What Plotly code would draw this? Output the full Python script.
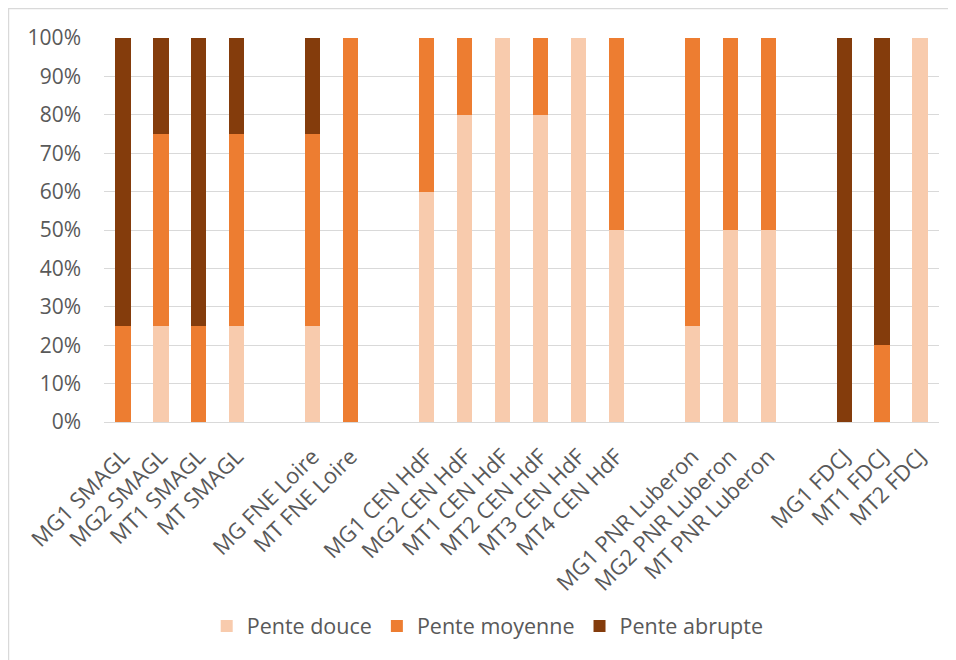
import plotly.graph_objects as go

categories = ["MG1 SMAGL", "MG2 SMAGL", "MT1 SMAGL", "MT SMAGL", " ",
              "MG FNE Loire", "MT FNE Loire", "  ",
              "MG1 CEN HdF", "MG2 CEN HdF", "MT1 CEN HdF", "MT2 CEN HdF", "MT3 CEN HdF", "MT4 CEN HdF", "   ",
              "MG1 PNR Luberon", "MG2 PNR Luberon", "MT PNR Luberon", "    ",
              "MG1 FDCJ", "MT1 FDCJ", "MT2 FDCJ"]

pente_douce = [0, 25, 0, 25, None,
               25, 0, None,
               60, 80, 100, 80, 100, 50, None,
               25, 50, 50, None,
               0, 0, 100]
pente_moyenne = [25, 50, 25, 50, None,
                 50, 100, None,
                 40, 20, 0, 20, 0, 50, None,
                 75, 50, 50, None,
                 0, 20, 0]
pente_abrupte = [75, 25, 75, 25, None,
                 25, 0, None,
                 0, 0, 0, 0, 0, 0, None,
                 0, 0, 0, None,
                 100, 80, 0]

series = [("Pente douce", pente_douce, "#F8CBAD"),
          ("Pente moyenne", pente_moyenne, "#ED7D31"),
          ("Pente abrupte", pente_abrupte, "#843C0C")]

fig = go.Figure()
for name, vals, color in series:
    fig.add_trace(go.Bar(x=categories, y=vals, name=name, marker_color=color,
                         marker_line_width=0))

font_color = "#595959"
fs = 21
fig.update_layout(
    barmode="stack",
    bargap=0.6,
    width=948, height=652,
    margin=dict(l=96, r=17, t=30, b=238),
    paper_bgcolor="white", plot_bgcolor="white",
    font=dict(family="Open Sans, sans-serif", size=fs, color=font_color),
    legend=dict(orientation="h", x=0.123, xanchor="left", y=-0.531, yanchor="middle",
                font=dict(size=fs + 0.5, color=font_color), traceorder="normal"),
    xaxis=dict(type="category", categoryorder="array", categoryarray=categories,
               tickangle=-45, showgrid=False, showline=True, linecolor="#D9D9D9",
               linewidth=1, ticks="", ticklabelstandoff=12,
               tickfont=dict(size=22, color=font_color)),
    yaxis=dict(range=[0, 100], dtick=10, ticksuffix="%", showgrid=True,
               gridcolor="#D9D9D9", gridwidth=1, zeroline=False, showline=False,
               ticks="", ticklabelstandoff=22, tickfont=dict(size=fs, color=font_color)),
    shapes=[dict(type="rect", xref="paper", yref="paper", x0=-0.1144, x1=1.2,
                 y0=-0.8, y1=1.0768, line=dict(color="#D9D9D9", width=1.5),
                 fillcolor="rgba(0,0,0,0)", layer="below")],
)

fig.write_html("out.html")
